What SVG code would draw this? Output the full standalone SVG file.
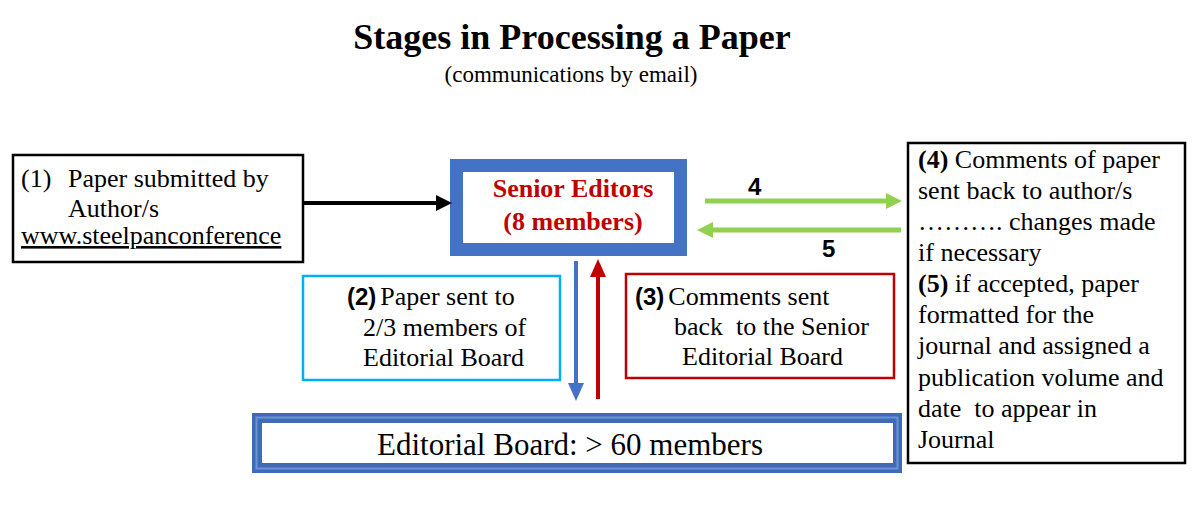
<svg xmlns="http://www.w3.org/2000/svg" width="1192" height="506" viewBox="0 0 1192 506">
  <style>
    .serif { font-family: "Liberation Serif", "Times New Roman", serif; fill: #000; }
    .sans-b { font-family: "Liberation Sans", Arial, sans-serif; font-weight: bold; fill: #000; }
    .body { font-size: 26px; }
    .b { font-weight: bold; }
    .box { fill: #fff; }
  </style>
  <defs>
    <marker id="head-black" markerUnits="userSpaceOnUse" markerWidth="16" markerHeight="16" refX="0" refY="8" orient="auto">
      <path d="M0,0 L16,8 L0,16 z" fill="#000"/>
    </marker>
    <marker id="head-green" markerUnits="userSpaceOnUse" markerWidth="16" markerHeight="16" refX="0" refY="8" orient="auto">
      <path d="M0,0 L16,8 L0,16 z" fill="#92D050"/>
    </marker>
    <marker id="head-blue" markerUnits="userSpaceOnUse" markerWidth="18" markerHeight="16" refX="0" refY="8" orient="auto">
      <path d="M0,0 L18,8 L0,16 z" fill="#4472C4"/>
    </marker>
    <marker id="head-red" markerUnits="userSpaceOnUse" markerWidth="18" markerHeight="16" refX="0" refY="8" orient="auto">
      <path d="M0,0 L18,8 L0,16 z" fill="#C00000"/>
    </marker>
  </defs>

  <rect width="1192" height="506" fill="#fff"/>

  <!-- heading -->
  <g id="title">
    <text class="serif b" x="572" y="49" font-size="36" text-anchor="middle">Stages in Processing a Paper</text>
    <text class="serif" x="571" y="82" font-size="23" text-anchor="middle">(communications by email)</text>
  </g>

  <!-- step 1: submission -->
  <g id="submission">
    <rect class="box" x="13" y="155" width="290" height="107" stroke="#000" stroke-width="2.5"/>
    <text class="serif body" x="21" y="187">(1)</text>
    <text class="serif body" x="68" y="187">Paper submitted by</text>
    <text class="serif body" x="68" y="217">Author/s</text>
    <text class="serif body" x="21" y="244" text-decoration="underline">www.steelpanconference</text>
  </g>

  <!-- senior editors -->
  <g id="senior-editors">
    <rect class="box" x="456.5" y="165.5" width="224" height="84" stroke="#4472C4" stroke-width="13"/>
    <text class="serif b body" x="573" y="197" text-anchor="middle" style="fill:#C00000">Senior Editors</text>
    <text class="serif b body" x="573" y="230" text-anchor="middle" style="fill:#C00000">(8 members)</text>
  </g>

  <!-- step 2 -->
  <g id="step-2">
    <rect class="box" x="303" y="276" width="257" height="104" stroke="#00B0F0" stroke-width="2.5"/>
    <text x="347" y="305"><tspan class="sans-b" font-size="24">(2)</tspan><tspan class="serif body" dx="4">Paper sent to</tspan></text>
    <text class="serif body" x="363" y="336">2/3 members of</text>
    <text class="serif body" x="363" y="366">Editorial Board</text>
  </g>

  <!-- step 3 -->
  <g id="step-3">
    <rect class="box" x="626" y="274" width="268" height="104" stroke="#C00000" stroke-width="2.5"/>
    <text x="635" y="305"><tspan class="sans-b" font-size="24">(3)</tspan><tspan class="serif body" dx="4">Comments sent</tspan></text>
    <text class="serif body" x="674" y="335" xml:space="preserve">back  to the Senior</text>
    <text class="serif body" x="682" y="365">Editorial Board</text>
  </g>

  <!-- editorial board: thick double-line frame -->
  <g id="editorial-board">
    <rect x="252" y="413" width="650" height="60" fill="#3F6AB8"/>
    <rect x="256.5" y="417.5" width="641" height="51" fill="none" stroke="#6F92D4" stroke-width="2"/>
    <rect x="262" y="423" width="631" height="40" fill="#fff"/>
    <text class="serif" x="570" y="455" font-size="31" text-anchor="middle">Editorial Board: &gt; 60 members</text>
  </g>

  <!-- steps 4 and 5 -->
  <g id="steps-4-5">
    <rect class="box" x="908" y="143" width="277" height="320" stroke="#000" stroke-width="2.5"/>
    <g class="serif body">
      <text x="918" y="168"><tspan class="b">(4)</tspan> Comments of paper</text>
      <text x="918" y="199">sent back to author/s</text>
      <text x="918" y="230">………. changes made</text>
      <text x="918" y="261">if necessary</text>
      <text x="918" y="292"><tspan class="b">(5)</tspan> if accepted, paper</text>
      <text x="918" y="323">formatted for the</text>
      <text x="918" y="354">journal and assigned a</text>
      <text x="918" y="386">publication volume and</text>
      <text x="918" y="417" xml:space="preserve">date  to appear in</text>
      <text x="918" y="448">Journal</text>
    </g>
  </g>

  <!-- connectors -->
  <g id="connectors" fill="none">
    <line x1="304" y1="203" x2="436" y2="203" stroke="#000" stroke-width="4" marker-end="url(#head-black)"/>
    <line x1="705" y1="201" x2="886" y2="201" stroke="#92D050" stroke-width="5" marker-end="url(#head-green)"/>
    <line x1="901" y1="230" x2="713" y2="230" stroke="#92D050" stroke-width="5" marker-end="url(#head-green)"/>
    <line x1="576" y1="261" x2="576" y2="383" stroke="#4472C4" stroke-width="4" marker-end="url(#head-blue)"/>
    <line x1="598" y1="399" x2="598" y2="277" stroke="#C00000" stroke-width="4" marker-end="url(#head-red)"/>
    <text class="sans-b" x="748" y="195" font-size="24" style="fill:#000">4</text>
    <text class="sans-b" x="822" y="257" font-size="24" style="fill:#000">5</text>
  </g>
</svg>
